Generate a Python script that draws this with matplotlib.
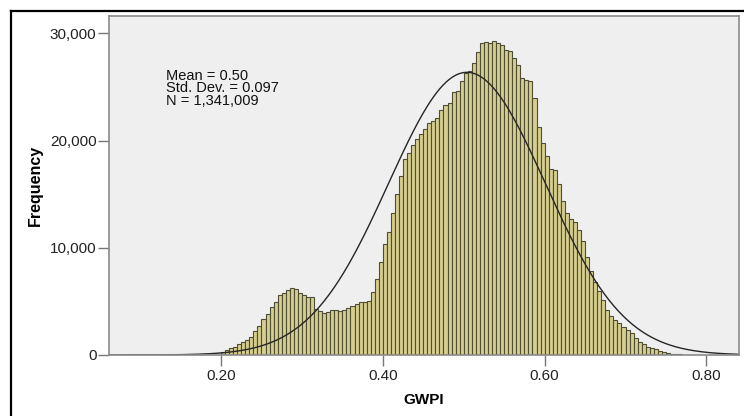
import numpy as np
import matplotlib
matplotlib.use("Agg")
import matplotlib.pyplot as plt
from matplotlib.lines import Line2D

# histogram of GWPI, bins of width 0.005 starting at 0.20
bin_start = 0.20
bin_width = 0.005
counts = [
    260, 420, 640, 790, 980, 1190, 1410, 1660, 2280, 2740,
    3360, 3830, 4450, 4980, 5600, 5750, 6090, 6250, 6160, 5750,
    5600, 5380, 5440, 4290, 4080, 3920, 3980, 4230, 4170, 4080,
    4230, 4390, 4600, 4760, 4910, 4980, 5070, 5840, 7050, 8640,
    10340, 11430, 13290, 14990, 16700, 18300, 18870, 19620, 20110, 20600,
    21080, 21610, 21820, 22090, 22820, 23290, 23470, 24540, 24600, 25560,
    26280, 26490, 27240, 28290, 29100, 29190, 29100, 29250, 29100, 28950,
    28480, 28320, 27700, 27090, 25840, 25690, 25530, 23930, 21260, 19770,
    18560, 17350, 17240, 15980, 14370, 13290, 12670, 12360, 11650, 10650,
    9160, 7860, 6770, 5940, 5100, 4200, 3600, 3250, 2950, 2650,
    2300, 2030, 1600, 1250, 980, 760, 640, 520, 380, 280,
    180, 120, 80, 50, 30, 20,
]

# summary statistics and fitted normal curve (as drawn)
stats_text = ["Mean = 0.50", "Std. Dev. = 0.097", "N = 1,341,009"]
curve_mean = 0.504
curve_sd = 0.097
curve_peak = 26370

xticks = [0.20, 0.40, 0.60, 0.80]
yticks = [0, 10000, 20000, 30000]

fig = plt.figure(figsize=(7.44, 4.16), dpi=100)
ax = fig.add_axes([109/744, 1-355/416, 630/744, (355-15.7)/416])
ax.set_facecolor("#efefef")

lefts = bin_start + bin_width*np.arange(len(counts))
ax.bar(lefts, counts, width=bin_width, align="edge",
       color="#d6ce8e", edgecolor="#4e4e36", linewidth=0.8)

xs = np.linspace(0.06, 0.84, 400)
ax.plot(xs, curve_peak*np.exp(-0.5*((xs-curve_mean)/curve_sd)**2),
        color="#262626", lw=1.0)

ax.set_xlim(0.0615, 0.8403)
ax.set_ylim(0, 31650)
ax.set_xticks(xticks)
ax.set_xticklabels(["{:.2f}".format(t) for t in xticks])
ax.set_yticks(yticks)
ax.set_yticklabels(["{:,}".format(t) for t in yticks])

for s in ax.spines.values():
    s.set_color("#8a8a8a")
    s.set_linewidth(1.2)
ax.tick_params(axis="both", length=8, width=1, color="#777777",
               labelsize=11, labelcolor="#222222")
ax.tick_params(axis="x", pad=2)
ax.tick_params(axis="y", pad=1)
for lab in ax.get_xticklabels() + ax.get_yticklabels():
    lab.set_family("Liberation Sans")

ax.text(0.09, 0.843, "\n".join(stats_text), transform=ax.transAxes,
        ha="left", va="top", fontsize=10.5, family="Liberation Sans",
        linespacing=0.85, color="#111111")

fig.text(35/744, 1-185/416, "Frequency", rotation=90, ha="center", va="center",
         fontsize=11.5, fontweight="bold", family="Liberation Sans")
fig.text(424/744, 1-400/416, "GWPI", ha="center", va="center",
         fontsize=11, fontweight="bold", family="Liberation Sans")

# outer frame lines along top and left edge
fig.add_artist(Line2D([11/744, 1], [1-11/416, 1-11/416], color="black", lw=1.6))
fig.add_artist(Line2D([11/744, 11/744], [0, 1-11/416], color="black", lw=1.6))

fig.savefig("out.png", dpi=100)
